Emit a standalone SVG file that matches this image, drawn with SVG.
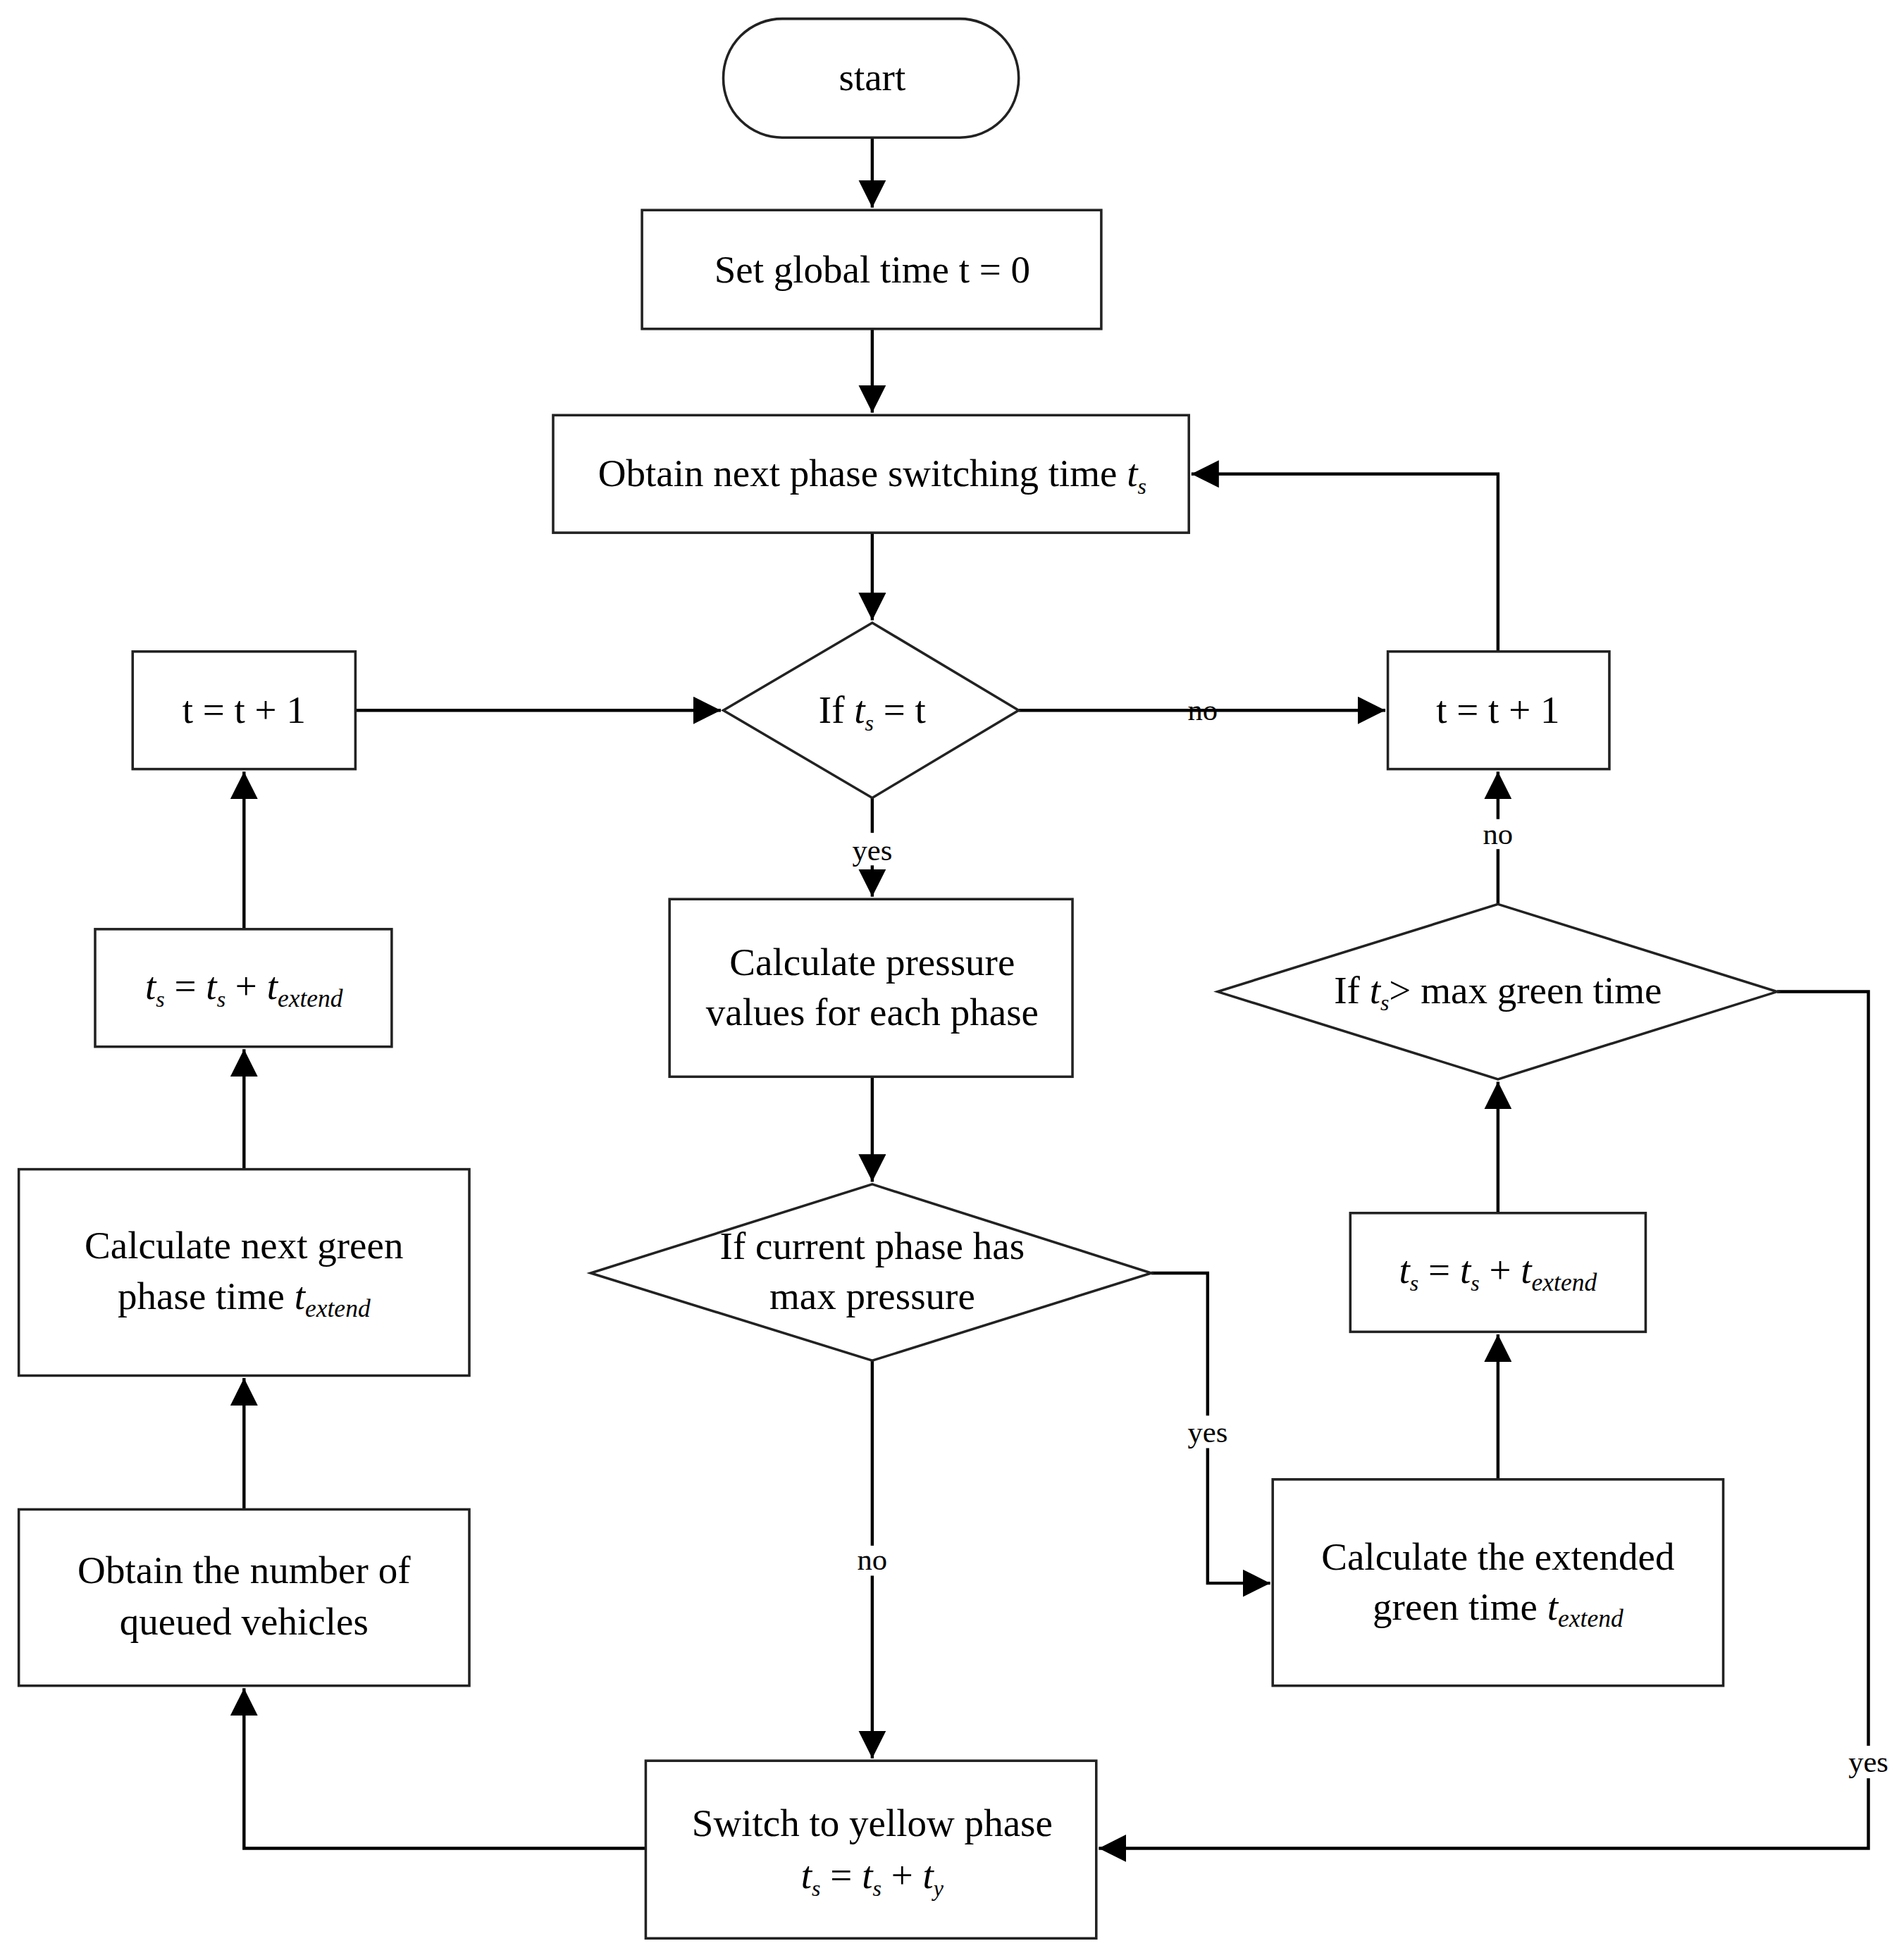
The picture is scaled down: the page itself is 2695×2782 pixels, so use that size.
<svg xmlns="http://www.w3.org/2000/svg" width="2695" height="2782" viewBox="0 0 2695 2782">
<style>
.n{fill:#fff;stroke:#222;stroke-width:2}
.t{font-family:"Liberation Serif",serif;font-size:31px;fill:#000;text-anchor:middle}
.i{font-style:italic}
.c{fill:none;stroke:#000;stroke-width:2.5}
.l{font-family:"Liberation Serif",serif;font-size:24px;fill:#000;text-anchor:middle}
.bg{fill:#fff}
</style>
<defs>
<marker id="a" markerUnits="userSpaceOnUse" markerWidth="24" markerHeight="22" refX="22" refY="11" orient="auto"><path d="M0,0 L22,11 L0,22 Z" fill="#000"/></marker>
</defs>
<rect width="2695" height="2782" fill="#fff"/>
<g transform="scale(1.776,1.775)">
<g id="connectors">
<path class="c" d="M697,110 V166" marker-end="url(#a)"/>
<path class="c" d="M697,263 V330" marker-end="url(#a)"/>
<path class="c" d="M697,426 V496" marker-end="url(#a)"/>
<path class="c" d="M697,638 V717" marker-end="url(#a)"/>
<path class="c" d="M814,568 H1107" marker-end="url(#a)"/>
<path class="c" d="M1197,521 V379 H952" marker-end="url(#a)"/>
<path class="c" d="M1197,723 V617" marker-end="url(#a)"/>
<path class="c" d="M1197,970 V865" marker-end="url(#a)"/>
<path class="c" d="M1197,1183 V1067" marker-end="url(#a)"/>
<path class="c" d="M697,861 V945" marker-end="url(#a)"/>
<path class="c" d="M920,1018 H965 V1266 H1015" marker-end="url(#a)"/>
<path class="c" d="M697,1088 V1406" marker-end="url(#a)"/>
<path class="c" d="M1420,793 H1493 V1478 H878" marker-end="url(#a)"/>
<path class="c" d="M516,1478 H195 V1350" marker-end="url(#a)"/>
<path class="c" d="M195,1207 V1102" marker-end="url(#a)"/>
<path class="c" d="M195,935 V839" marker-end="url(#a)"/>
<path class="c" d="M195,743 V617" marker-end="url(#a)"/>
<path class="c" d="M284,568 H576" marker-end="url(#a)"/>
<rect class="bg" x="680" y="666" width="34" height="26"/><text class="l" x="697" y="688">yes</text>
<text class="l" x="961" y="576">no</text>
<rect class="bg" x="1182" y="655" width="30" height="24"/><text class="l" x="1197" y="675">no</text>
<rect class="bg" x="947" y="1132" width="36" height="26"/><text class="l" x="965" y="1153">yes</text>
<rect class="bg" x="680" y="1236" width="34" height="24"/><text class="l" x="697" y="1255">no</text>
<rect class="bg" x="1475" y="1396" width="36" height="26"/><text class="l" x="1493" y="1417">yes</text>
</g>
<g id="start"><rect class="n" x="578" y="15" width="236" height="95" rx="47"/><text class="t" x="697" y="72">start</text></g>
<g id="setTime"><rect class="n" x="513" y="168" width="367" height="95"/><text class="t" x="697" y="226">Set global time t = 0</text></g>
<g id="obtainTs"><rect class="n" x="442" y="332" width="508" height="94"/><text class="t" x="697" y="389">Obtain next phase switching time <tspan class="i">t</tspan><tspan class="i" font-size="18" dy="6">s</tspan></text></g>
<g id="ifTs"><path class="n" d="M697,498 L814,568 L697,638 L578,568 Z"/><text class="t" x="697" y="578">If <tspan class="i">t</tspan><tspan class="i" font-size="18" dy="6">s</tspan><tspan dy="-6"> = t</tspan></text></g>
<g id="leftInc"><rect class="n" x="106" y="521" width="178" height="94"/><text class="t" x="195" y="578">t = t + 1</text></g>
<g id="rightInc"><rect class="n" x="1109" y="521" width="177" height="94"/><text class="t" x="1197" y="578">t = t + 1</text></g>
<g id="calcPressure"><rect class="n" x="535" y="719" width="322" height="142"/><text class="t" x="697" y="780">Calculate pressure</text><text class="t" x="697" y="820">values for each phase</text></g>
<g id="ifMax"><path class="n" d="M697,947 L920,1018 L697,1088 L472,1018 Z"/><text class="t" x="697" y="1007">If current phase has</text><text class="t" x="697" y="1047">max pressure</text></g>
<g id="ifGreen"><path class="n" d="M1197,723 L1420,793 L1197,863 L973,793 Z"/><text class="t" x="1197" y="802">If <tspan class="i">t</tspan><tspan class="i" font-size="18" dy="6">s</tspan><tspan dy="-6">&gt; max green time</tspan></text></g>
<g id="leftTs"><rect class="n" x="76" y="743" width="237" height="94"/><text class="t" x="195" y="799"><tspan class="i">t</tspan><tspan class="i" font-size="18" dy="6">s</tspan><tspan dy="-6"> = </tspan><tspan class="i">t</tspan><tspan class="i" font-size="18" dy="6">s</tspan><tspan dy="-6"> + </tspan><tspan class="i">t</tspan><tspan class="i" font-size="20" dy="6">extend</tspan></text></g>
<g id="rightTs"><rect class="n" x="1079" y="970" width="236" height="95"/><text class="t" x="1197" y="1026"><tspan class="i">t</tspan><tspan class="i" font-size="18" dy="6">s</tspan><tspan dy="-6"> = </tspan><tspan class="i">t</tspan><tspan class="i" font-size="18" dy="6">s</tspan><tspan dy="-6"> + </tspan><tspan class="i">t</tspan><tspan class="i" font-size="20" dy="6">extend</tspan></text></g>
<g id="calcNext"><rect class="n" x="15" y="935" width="360" height="165"/><text class="t" x="195" y="1006">Calculate next green</text><text class="t" x="195" y="1047">phase time <tspan class="i">t</tspan><tspan class="i" font-size="20" dy="6">extend</tspan></text></g>
<g id="obtainQueue"><rect class="n" x="15" y="1207" width="360" height="141"/><text class="t" x="195" y="1266">Obtain the number of</text><text class="t" x="195" y="1307">queued vehicles</text></g>
<g id="calcExtended"><rect class="n" x="1017" y="1183" width="360" height="165"/><text class="t" x="1197" y="1255">Calculate the extended</text><text class="t" x="1197" y="1295">green time <tspan class="i">t</tspan><tspan class="i" font-size="20" dy="6">extend</tspan></text></g>
<g id="yellow"><rect class="n" x="516" y="1408" width="360" height="142"/><text class="t" x="697" y="1468">Switch to yellow phase</text><text class="t" x="697" y="1510"><tspan class="i">t</tspan><tspan class="i" font-size="18" dy="6">s</tspan><tspan dy="-6"> = </tspan><tspan class="i">t</tspan><tspan class="i" font-size="18" dy="6">s</tspan><tspan dy="-6"> + </tspan><tspan class="i">t</tspan><tspan class="i" font-size="18" dy="6">y</tspan></text></g>
</g>
</svg>
